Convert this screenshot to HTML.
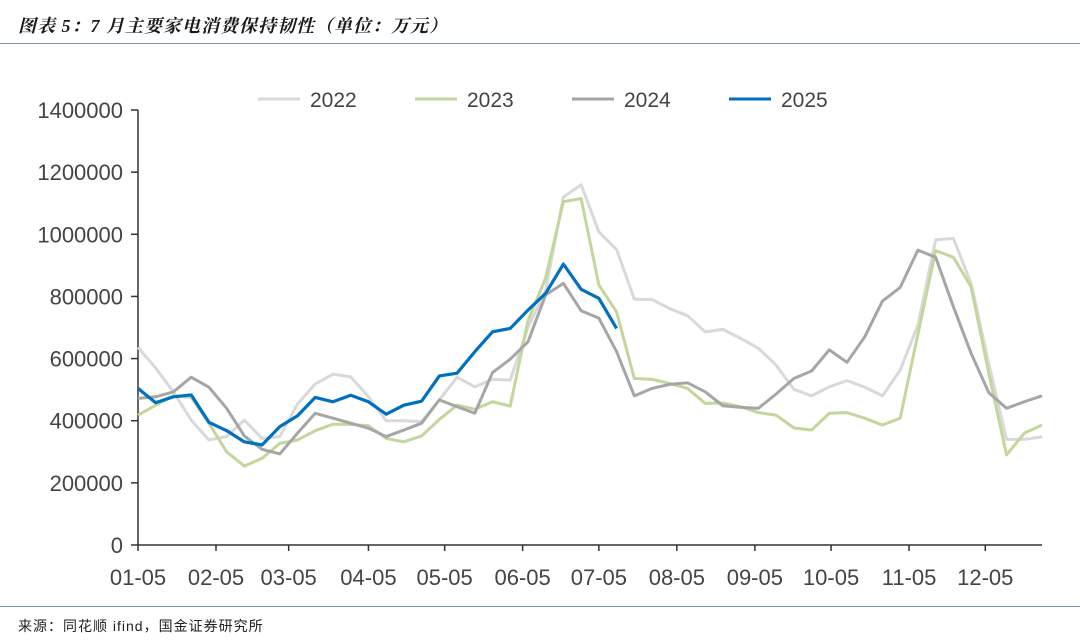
<!DOCTYPE html>
<html><head><meta charset="utf-8">
<style>
body{margin:0;background:#fff;width:1080px;height:642px;overflow:hidden;font-family:"Liberation Sans","Noto Sans CJK SC",sans-serif;}
.title{position:absolute;left:18px;top:12px;font-size:18px;font-style:italic;font-weight:bold;color:#1a1a1a;letter-spacing:1px;font-family:"Liberation Serif","Noto Serif CJK SC","Noto Sans CJK SC",serif;}
.src{position:absolute;left:18px;top:616px;font-size:14px;color:#222;letter-spacing:1px;}
</style></head><body>
<div class="title">图表 5：7 月主要家电消费保持韧性（单位：万元）</div>
<div style="position:absolute;left:0;top:43px;width:1080px;height:1px;background:#7f95a8"></div>
<div style="position:absolute;left:0;top:606px;width:1080px;height:1px;background:#7f95a8"></div>
<div class="src">来源：同花顺 ifind，国金证券研究所</div>
<svg id="chart" width="1080" height="642" style="position:absolute;left:0;top:0"></svg>
<script>
const months=["01-05","02-05","03-05","04-05","05-05","06-05","07-05","08-05","09-05","10-05","11-05","12-05"];
const monthIdx=[0,4.4,8.5,13,17.3,21.7,26,30.4,34.8,39.1,43.5,47.8];
const yTicks=[0,200000,400000,600000,800000,1000000,1200000,1400000];
const seriesNames=["2022","2023","2024","2025"];
const s2022=[636,569,493,402,338,349,402,343,349,454,518,550,541,477,400,400,397,467,540,509,533,531,700,820,1120,1159,1008,951,791,790,761,738,686,694,665,633,579,501,480,509,529,508,480,563,708,982,987,842,584,340,340,348];
const s2023=[418,450,480,475,392,300,254,279,327,338,368,389,388,384,343,332,351,404,450,437,461,447,722,860,1105,1115,837,750,536,533,520,504,456,457,445,426,418,377,370,424,426,408,386,408,679,947,926,831,552,290,360,386];
const s2024=[472,477,493,540,508,440,351,308,293,360,424,408,392,376,349,370,392,467,445,424,555,598,654,805,842,754,730,622,480,504,517,522,493,448,443,440,486,536,560,628,588,670,785,829,949,926,767,617,490,440,461,480];
const s2025=[504,458,477,483,395,368,332,322,381,416,475,461,482,461,421,450,463,544,553,622,686,697,756,810,904,823,794,697];
const colors=["#d9d9d9","#c3d69b","#a6a6a6","#0070c0"];
const NS="http://www.w3.org/2000/svg";
const svg=document.getElementById("chart");
const x0=138,x1=1042,y0=545,yTop=110,nPts=52;
const xs=i=>x0+i*(x1-x0)/(nPts-1);
const ys=v=>y0-v/1400000*(y0-yTop);
function mk(t,a){const e=document.createElementNS(NS,t);for(const k in a)e.setAttribute(k,a[k]);svg.appendChild(e);return e;}
let ax=mk("line",{x1:x0,y1:yTop,x2:x0,y2:y0,stroke:"#333","stroke-width":1.5});


let bx=mk("line",{x1:x0,y1:y0,x2:x1,y2:y0,stroke:"#333","stroke-width":1.5});


yTicks.forEach(v=>{
 const tk=mk("line",{x1:x0-7,y1:ys(v),x2:x0,y2:ys(v),stroke:"#333","stroke-width":1.5});
 
 
 const t=mk("text",{x:123,y:ys(v)+8,"text-anchor":"end","font-size":22,fill:"#444","font-family":"Liberation Sans, sans-serif"});
 t.textContent=v;
 
 
});
months.forEach((m,k)=>{
 const x=xs(monthIdx[k]);
 const tk=mk("line",{x1:x,y1:y0,x2:x,y2:y0+6,stroke:"#333","stroke-width":1.5});
 
 
 const t=mk("text",{x:x,y:585,"text-anchor":"middle","font-size":22,fill:"#444","font-family":"Liberation Sans, sans-serif"});
 t.textContent=m;
 
 
});
[s2022,s2023,s2024,s2025].forEach((s,k)=>{
 const p=mk("polyline",{points:s.map((v,i)=>xs(i)+","+ys(v*1000)).join(" "),fill:"none",stroke:colors[k],"stroke-width":k==3?3.2:3,"stroke-linejoin":"round"});
 
 
 const lx=258+k*157;
 const l=mk("line",{x1:lx,y1:99,x2:lx+42,y2:99,stroke:colors[k],"stroke-width":3});
 
 
 const t=mk("text",{x:lx+52,y:107,"font-size":21,fill:"#444","font-family":"Liberation Sans, sans-serif"});
 t.textContent=seriesNames[k];
 
 
});
</script>
</body></html>
